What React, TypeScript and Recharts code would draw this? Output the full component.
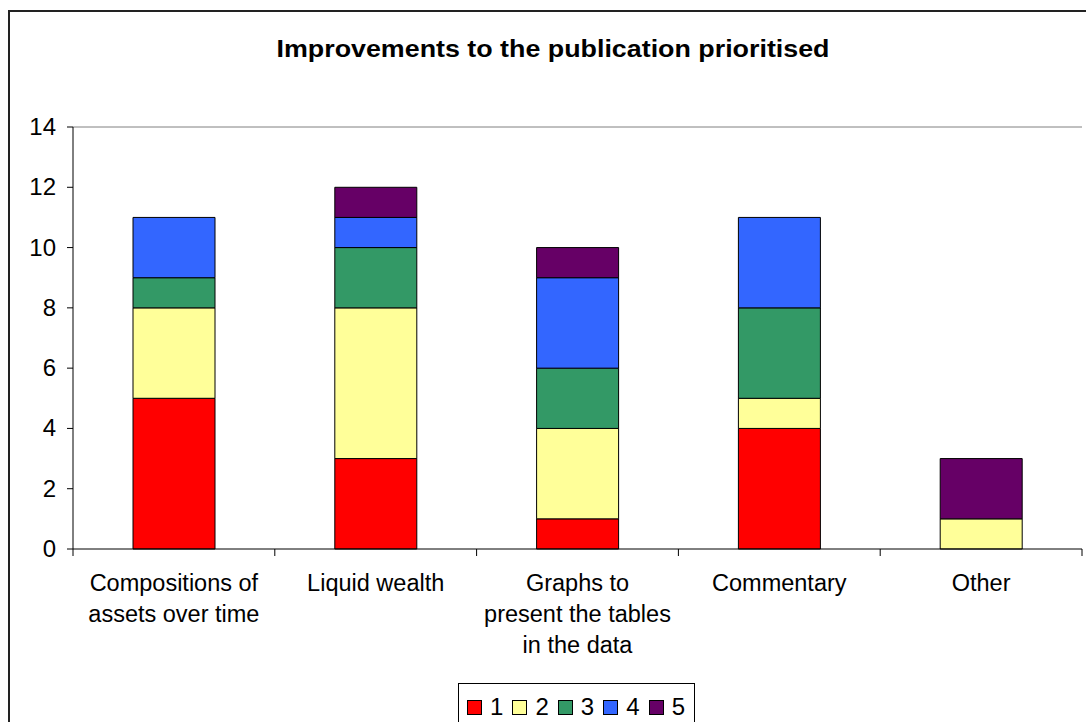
import { BarChart, Bar, XAxis, YAxis, ReferenceLine } from 'recharts';

const categories = [
  ['Compositions of', 'assets over time'],
  ['Liquid wealth'],
  ['Graphs to', 'present the tables', 'in the data'],
  ['Commentary'],
  ['Other'],
];

const rank1 = [5, 3, 1, 4, 0];
const rank2 = [3, 5, 3, 1, 1];
const rank3 = [1, 2, 2, 3, 0];
const rank4 = [2, 1, 3, 3, 0];
const rank5 = [0, 1, 1, 0, 2];

const seriesNames = ['1', '2', '3', '4', '5'];
const seriesColors = ['#FF0000', '#FFFF99', '#339966', '#3366FF', '#660066'];
const yTicks = [0, 2, 4, 6, 8, 10, 12, 14];

const chartTitle = 'Improvements to the publication prioritised';

const W = 1086;
const H = 722;
const PLOT_LEFT = 73;
const PLOT_RIGHT = 1082;
const PLOT_TOP = 127;
const PLOT_BOTTOM = 549;
const BAND = (PLOT_RIGHT - PLOT_LEFT) / categories.length;

const data = categories.map((lines, i) => ({
  name: lines.join(' '),
  lines,
  s1: rank1[i],
  s2: rank2[i],
  s3: rank3[i],
  s4: rank4[i],
  s5: rank5[i],
}));

const font = 'Arial, "Liberation Sans", sans-serif';

function CategoryTick(props: any) {
  const { x, payload, index } = props;
  const lines: string[] = data[index]?.lines ?? [String(payload?.value ?? '')];
  const left = x - BAND / 2;
  return (
    <g>
      <line x1={left} x2={left} y1={PLOT_BOTTOM} y2={PLOT_BOTTOM + 7} stroke="#000" />
      {index === categories.length - 1 && (
        <line x1={x + BAND / 2} x2={x + BAND / 2} y1={PLOT_BOTTOM} y2={PLOT_BOTTOM + 7} stroke="#000" />
      )}
      {lines.map((ln, i) => (
        <text
          key={i}
          x={x}
          y={591 + i * 31}
          textAnchor="middle"
          fontSize={23.5}
          fontFamily={font}
          fill="#000"
        >
          {ln}
        </text>
      ))}
    </g>
  );
}

function ValueTick(props: any) {
  const { y, payload } = props;
  return (
    <text x={56} y={y + 8} textAnchor="end" fontSize={24} fontFamily={font} fill="#000">
      {payload?.value}
    </text>
  );
}

export default function App() {
  return (
    <div style={{ position: 'fixed', left: 0, top: 0, width: W, height: H, overflow: 'hidden', background: '#fff' }}>
      <div
        style={{
          position: 'absolute',
          left: 8,
          top: 10,
          width: W + 20,
          height: H + 20,
          border: '2px solid #222',
          boxSizing: 'border-box',
        }}
      />
      <BarChart
        width={W}
        height={H}
        data={data}
        margin={{ top: PLOT_TOP, right: W - PLOT_RIGHT, left: 0, bottom: 63 }}
        style={{ position: 'absolute', left: 0, top: 0 }}
      >
        <text
          x={553}
          y={57}
          textAnchor="middle"
          fontSize={23}
          fontWeight="bold"
          fontFamily={font}
          fill="#000"
          textLength={553}
          lengthAdjust="spacingAndGlyphs"
        >
          {chartTitle}
        </text>
        <XAxis
          dataKey="name"
          height={H - PLOT_BOTTOM - 63}
          tickLine={false}
          axisLine={{ stroke: '#000', strokeWidth: 1 }}
          tick={<CategoryTick />}
          interval={0}
        />
        <YAxis
          yAxisId="left"
          width={PLOT_LEFT}
          domain={[0, 14]}
          ticks={yTicks}
          interval={0}
          tickSize={6}
          tickMargin={6}
          tickLine={{ stroke: '#000' }}
          axisLine={{ stroke: '#000' }}
          tick={<ValueTick />}
          allowDecimals={false}
        />
        <YAxis
          yAxisId="right"
          orientation="right"
          width={0}
          domain={[0, 14]}
          tick={false}
          tickLine={false}
          axisLine={{ stroke: '#808080' }}
        />
        <ReferenceLine yAxisId="left" y={14} stroke="#808080" />
        {seriesNames.map((n, i) => (
          <Bar
            key={n}
            yAxisId="left"
            dataKey={`s${i + 1}`}
            name={n}
            stackId="a"
            fill={seriesColors[i]}
            stroke="#000"
            strokeWidth={1}
            barSize={82}
            isAnimationActive={false}
          />
        ))}
      </BarChart>
      <div
        style={{
          position: 'absolute',
          left: 458,
          top: 683,
          width: 237,
          height: 60,
          border: '1px solid #000',
          boxSizing: 'border-box',
          display: 'flex',
          alignItems: 'flex-start',
          paddingLeft: 8,
          paddingTop: 11,
          fontFamily: font,
          fontSize: 24,
          lineHeight: '24px',
        }}
      >
        {seriesNames.map((n, i) => (
          <div key={n} style={{ display: 'flex', alignItems: 'center', width: 45.7 }}>
            <span
              style={{
                display: 'inline-block',
                width: 15,
                height: 15,
                background: seriesColors[i],
                border: '1.5px solid #000',
                boxSizing: 'border-box',
                marginRight: 8,
              }}
            />
            <span>{n}</span>
          </div>
        ))}
      </div>
    </div>
  );
}
